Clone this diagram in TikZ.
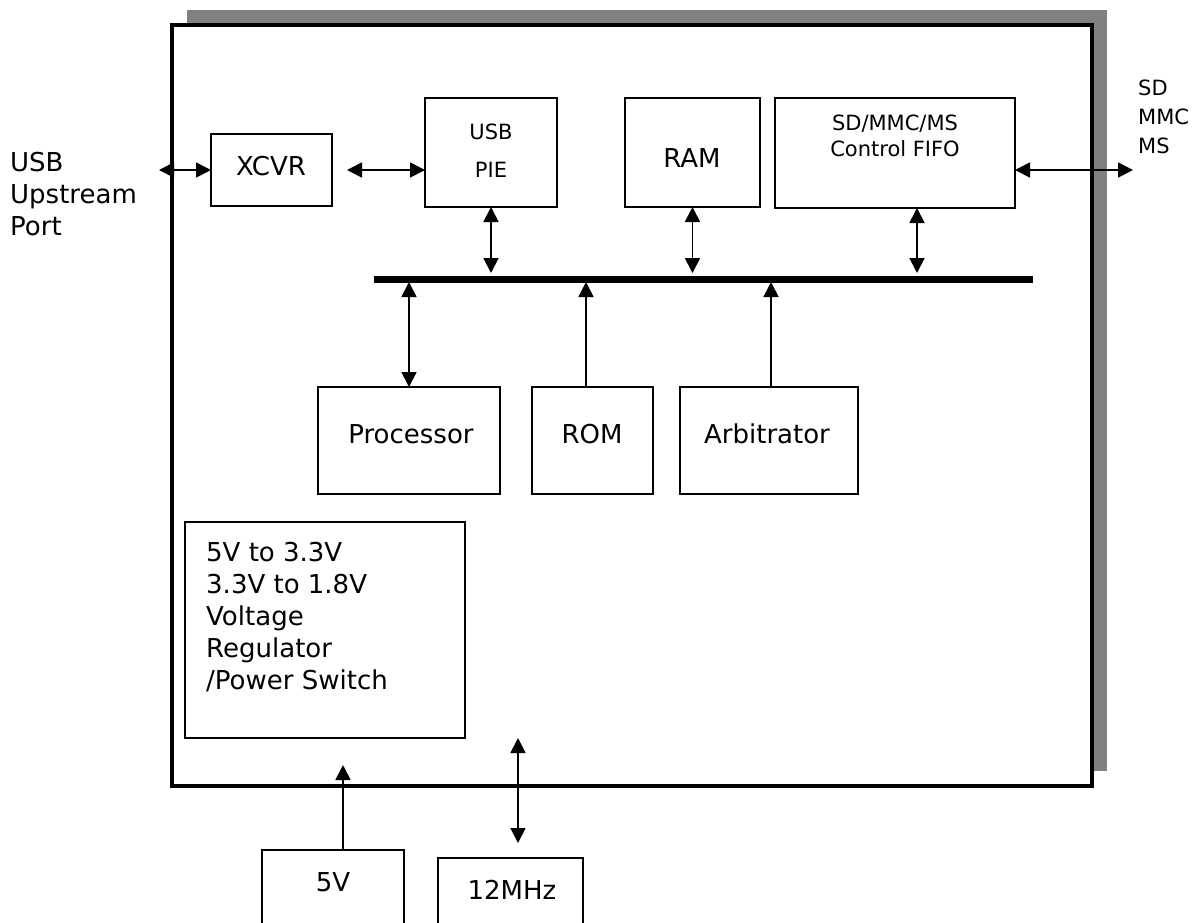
\documentclass[tikz,border=0pt]{standalone}
\usepackage{fontspec}
\setmainfont{DejaVu Sans}
\usetikzlibrary{arrows.meta,calc}
\begin{document}
\begin{tikzpicture}[x=1pt,y=-1pt,
  box/.style={draw=black,line width=1.6pt,inner sep=0pt,outer sep=0pt},
  big/.style={font=\fontsize{26}{32}\selectfont,inner sep=0pt,anchor=base},
  small/.style={font=\fontsize{21}{26}\selectfont,inner sep=0pt,anchor=base},
  conn/.style={line width=1.8pt},
  dbl/.style={conn,{Triangle[length=15pt,width=15pt]}-{Triangle[length=15pt,width=15pt]}},
  sgl/.style={conn,-{Triangle[length=15pt,width=15pt]}},
  bus/.style={line width=7pt}]
\useasboundingbox (0,0) rectangle (1202,922);
% shadow and chip
\fill[black!50] (187,10) rectangle (1107,771);
\node[draw=black,fill=white,line width=3.5pt,inner sep=0pt,minimum width=920pt,minimum height=761pt] (chip) at (632,405.5) {};
% boxes
\node[box,minimum width=121pt,minimum height=72pt] (xcvr) at (271.5,170) {};
\node[box,minimum width=132pt,minimum height=109pt] (pie) at (491,152.5) {};
\node[box,minimum width=135pt,minimum height=109pt] (ram) at (692.5,152.5) {};
\node[box,minimum width=240pt,minimum height=110pt] (sd) at (895,153) {};
\node[box,minimum width=182pt,minimum height=107pt] (proc) at (409,440.5) {};
\node[box,minimum width=121pt,minimum height=107pt] (rom) at (592.5,440.5) {};
\node[box,minimum width=178pt,minimum height=107pt] (arb) at (769,440.5) {};
\node[box,minimum width=280pt,minimum height=216pt] (vreg) at (325,630) {};
\node[box,minimum width=142pt,minimum height=85pt] (five) at (333,892.5) {};
\node[box,minimum width=145pt,minimum height=77pt] (mhz) at (510.5,896.5) {};
% texts
\node[big] (xcvrt) at (271,175) {XCVR};
\node[small] (piet1) at (491,139) {USB};
\node[small] (piet2) at (491,177) {PIE};
\node[big] (ramt) at (692,167) {RAM};
\node[small] (sdt1) at (895,130) {SD/MMC/MS};
\node[small] (sdt2) at (895,156) {Control FIFO};
\node[big] (proct) at (411,443) {Processor};
\node[big] (romt) at (592,443) {ROM};
\node[big] (arbt) at (767,443) {Arbitrator};
\node[big,anchor=base west] (vt1) at (206,561) {5V to 3.3V};
\node[big,anchor=base west] (vt2) at (206,593) {3.3V to 1.8V};
\node[big,anchor=base west] (vt3) at (206,625) {Voltage};
\node[big,anchor=base west] (vt4) at (206,657) {Regulator};
\node[big,anchor=base west] (vt5) at (206,689) {/Power Switch};
\node[big] (fivet) at (333,891) {5V};
\node[big] (mhzt) at (512,899) {12MHz};
\node[big,anchor=base west] (usbl1) at (10,171) {USB};
\node[big,anchor=base west] (usbl2) at (10,203) {Upstream};
\node[big,anchor=base west] (usbl3) at (10,235) {Port};
\node[small,anchor=base west] (sdl1) at (1138,95) {SD};
\node[small,anchor=base west] (sdl2) at (1138,124) {MMC};
\node[small,anchor=base west] (sdl3) at (1138,153) {MS};
% bus
\coordinate (busL) at (374,279);
\coordinate (busR) at (1033,279);
\draw[bus] (busL) -- (busR);
% connectors
\coordinate (usbend) at (159,170);
\coordinate (sdend) at (1133,170);
\coordinate (v5end) at (343,765);
\coordinate (mhzend) at (518,738);
\draw[dbl] (usbend) -- (xcvr.west);
\draw[dbl,shorten <=15pt] (xcvr.east) -- (xcvr.east -| pie.west);
\draw[dbl] (sdend -| sd.east) -- (sdend);
\draw[dbl,shorten >=6pt] (pie.south) -- (pie.south |- busL);
\draw[dbl,shorten >=6pt] (ram.south) -- (ram.south |- busL);
\draw[dbl,shorten >=6pt] ([xshift=22pt]sd.south) -- ([xshift=22pt]sd.south |- busL);
\draw[dbl,shorten <=3pt] (proc.north |- busL) -- (proc.north);
\draw[sgl,shorten >=3pt] ([xshift=-6.5pt]rom.north) -- ([xshift=-6.5pt]rom.north |- busL);
\draw[sgl,shorten >=3pt] ([xshift=2pt]arb.north) -- ([xshift=2pt]arb.north |- busL);
\draw[sgl] (v5end |- five.north) -- (v5end);
\draw[dbl,shorten >=15pt] (mhzend) -- (mhzend |- mhz.north);
\end{tikzpicture}
\end{document}
